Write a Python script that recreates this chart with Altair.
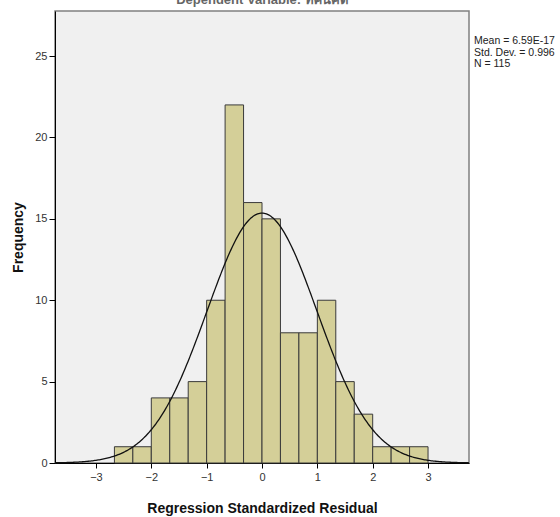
import altair as alt
import pandas as pd

# Histogram bins (width 1/3) and counts
bin_start = [-8/3, -7/3, -2, -5/3, -4/3, -1, -2/3, -1/3, 0, 1/3, 2/3, 1, 4/3, 5/3, 2, 7/3, 8/3]
counts = [1, 1, 4, 4, 5, 10, 22, 16, 15, 8, 8, 10, 5, 3, 1, 1, 1]
bin_width = 1/3

# Summary statistics shown on the chart
mean_val = 6.59e-17
std_val = 0.996
n_val = 115

stats_lines = ["Mean = 6.59E-17", "Std. Dev. = 0.996", "N = 115"]

x_ticks = [-3, -2, -1, 0, 1, 2, 3]
y_ticks = [0, 5, 10, 15, 20, 25]
x_domain = [-3.74, 3.74]
y_domain = [0, 27.77]

FONT = "Liberation Sans"

hist_df = pd.DataFrame({
    "start": bin_start,
    "end": [b + bin_width for b in bin_start],
    "count": counts,
})

xs = alt.Scale(domain=x_domain, nice=False, zero=False)
ys = alt.Scale(domain=y_domain, nice=False)

bars = alt.Chart(hist_df).mark_rect(
    fill="#D4CF98", stroke="#3a3a3a", strokeWidth=1
).encode(
    x=alt.X("start:Q", scale=xs,
            axis=alt.Axis(values=x_ticks, format="d", title="Regression Standardized Residual",
                          grid=False, tickSize=5, labelPadding=3, titlePadding=19,
                          domainColor="#000000", tickColor="#000000")),
    x2="end:Q",
    y=alt.Y("count:Q", scale=ys,
            axis=alt.Axis(values=y_ticks, format="d", title="Frequency", grid=False,
                          tickSize=6, labelPadding=2, titlePadding=9,
                          domainColor="#000000", tickColor="#000000")),
    y2=alt.datum(0),
)

curve = alt.Chart(
    alt.sequence(start=x_domain[0], stop=x_domain[1] + 0.01, step=0.02, as_="x")
).transform_calculate(
    y=f"{n_val} * {bin_width} * densityNormal(datum.x, {mean_val}, {std_val})"
).mark_line(color="#111111", strokeWidth=1.3).encode(
    x=alt.X("x:Q", scale=xs),
    y=alt.Y("y:Q", scale=ys),
)

stats_df = pd.DataFrame({"text": ["\n".join(stats_lines)]})
stats = alt.Chart(stats_df).mark_text(
    align="left", baseline="top", font=FONT, fontSize=10.5, color="#222222",
    lineBreak="\n", lineHeight=11.5,
).encode(
    text="text:N",
    x=alt.value(419),
    y=alt.value(25),
)

chart = alt.layer(bars, curve, stats).properties(
    width=414,
    height=452,
    padding={"left": 55, "top": 11, "right": 91, "bottom": 54},
    autosize=alt.AutoSizeParams(type="none"),
    background="#ffffff",
    title=alt.TitleParams("Dependent Variable: ทัศนคติ", font=FONT, fontSize=13,
                          color="#666666", fontWeight="bold", dy=-4, offset=0),
).configure_view(
    fill="#F0F0F0", stroke="#808080", strokeWidth=1.5
).configure_axis(
    labelFont=FONT, labelFontSize=11, labelColor="#333333",
    titleFont=FONT, titleFontSize=14, titleFontWeight="bold", titleColor="#111111",
)

chart.save("out.html", embed_options={"renderer": "svg", "actions": False})
